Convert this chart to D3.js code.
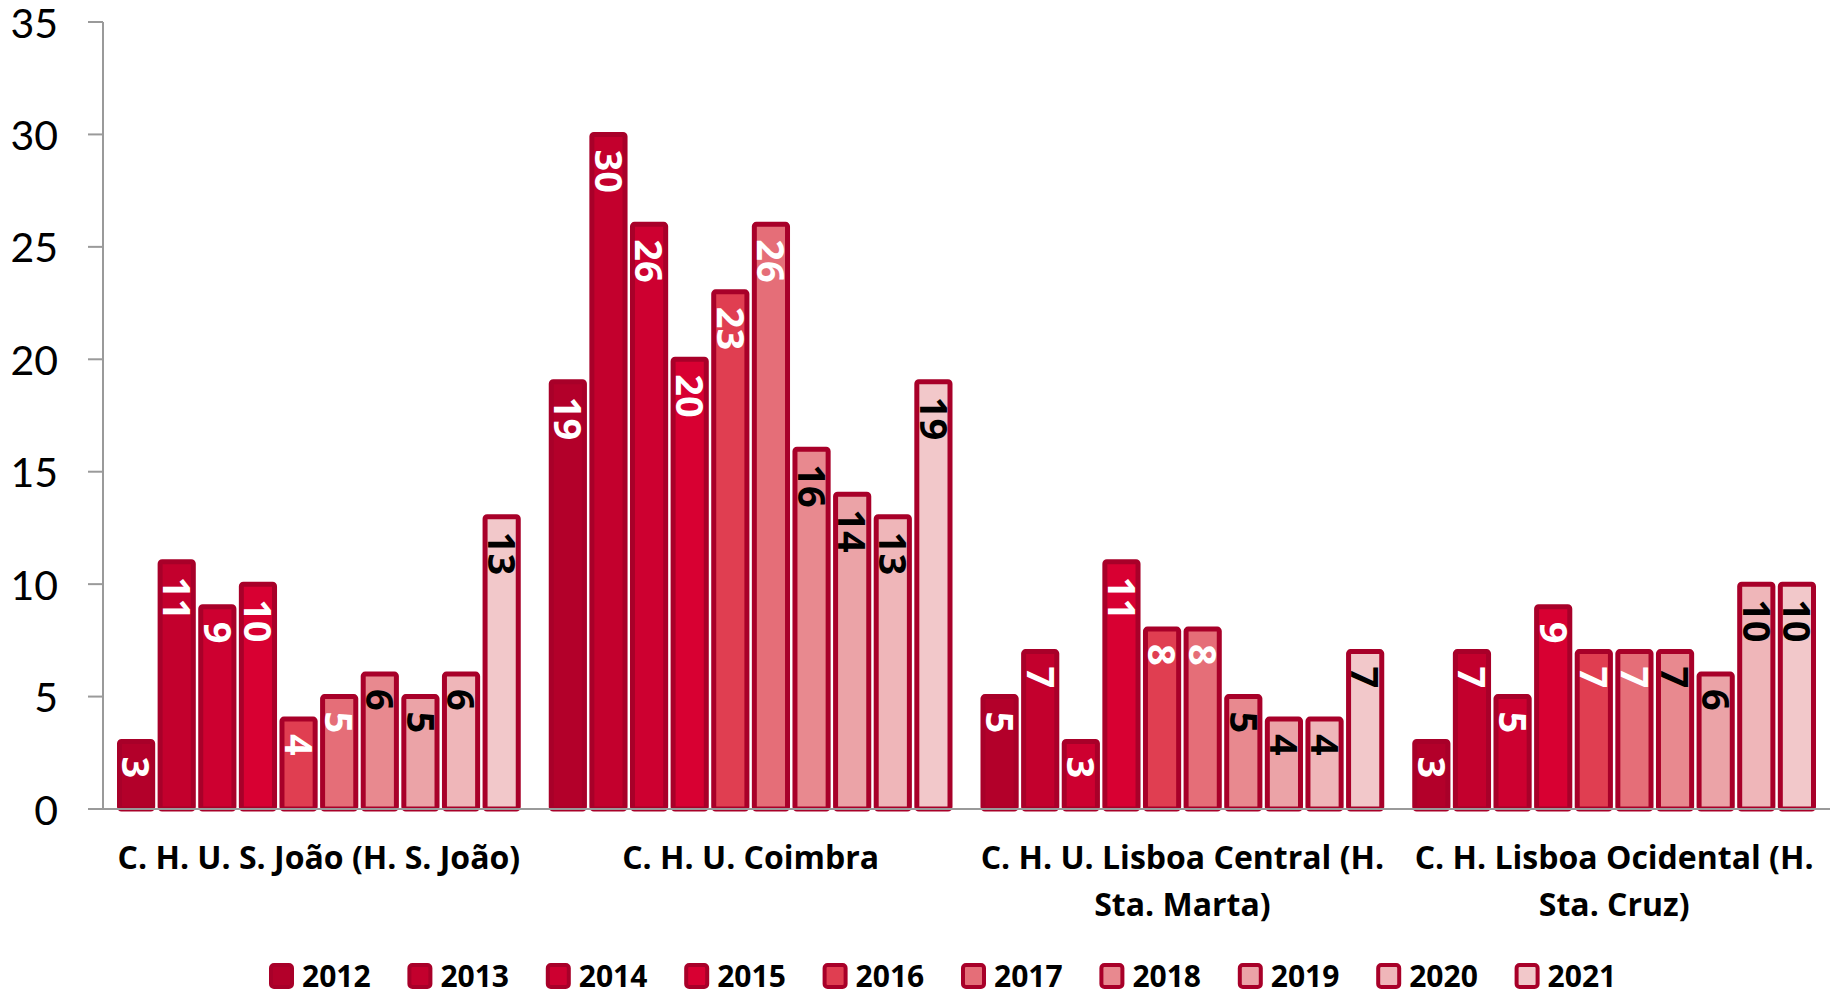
<!DOCTYPE html>
<html>
<head>
<meta charset="utf-8">
<script src="https://cdn.jsdelivr.net/npm/d3@7"></script>
<style>
  body { margin: 0; background: #fff; }
  text { font-family: Lato, "Open Sans", sans-serif; }
  .bold { font-family: "Open Sans", Lato, sans-serif; font-weight: bold; }
</style>
</head>
<body>
<div id="wrapper"></div>
<script>
// data
var hospitals = ["C. H. U. S. João (H. S. João)", "C. H. U. Coimbra",
                 "C. H. U. Lisboa Central (H. Sta. Marta)", "C. H. Lisboa Ocidental (H. Sta. Cruz)"];
var years = ["2012", "2013", "2014", "2015", "2016", "2017", "2018", "2019", "2020", "2021"];
var sJoao    = [3, 11, 9, 10, 4, 5, 6, 5, 6, 13];
var coimbra  = [19, 30, 26, 20, 23, 26, 16, 14, 13, 19];
var lisboaC  = [5, 7, 3, 11, 8, 8, 5, 4, 4, 7];
var lisboaO  = [3, 7, 5, 9, 7, 7, 7, 6, 10, 10];
var yTicks = [0, 5, 10, 15, 20, 25, 30, 35];
var fills = ["#b3002a", "#c3002d", "#cd0030", "#d80032", "#e03e51", "#e56e78",
             "#e8898f", "#eba3a7", "#efb6b9", "#f2c8ca"];
var strokeCol = "#a80029";

var series = [sJoao, coimbra, lisboaC, lisboaO];
var rows = hospitals.map(function(h, i) {
    return { name: h, values: years.map(function(y, j) { return { year: y, idx: j, v: series[i][j] }; }) };
});

var W = 1839, H = 994;
var svg = d3.select('#wrapper')
            .append('svg')
            .attr('width', W)
            .attr('height', H);

var x0 = d3.scaleBand().domain(hospitals).range([103, 1830]).padding(0);
var x1 = d3.scaleBand().domain(years).range([14, x0.bandwidth() - 14]).paddingInner(0.06);
var y = d3.scaleLinear().domain([0, 35]).range([809, 22]);

// y axis
var yAxis = svg.append("g");
yAxis.append("line")
     .attr("x1", 103).attr("x2", 103)
     .attr("y1", y(35)).attr("y2", y(0))
     .attr("stroke", "#9a9a9a").attr("stroke-width", 2);
yAxis.selectAll(".tick")
     .data(yTicks)
     .enter()
     .append("line")
     .attr("x1", 88).attr("x2", 103)
     .attr("y1", function(d) { return y(d); })
     .attr("y2", function(d) { return y(d); })
     .attr("stroke", "#9a9a9a").attr("stroke-width", 2);
yAxis.selectAll(".lbl")
     .data(yTicks)
     .enter()
     .append("text")
     .attr("x", 58)
     .attr("y", function(d) { return y(d); })
     .attr("dy", "0.38em")
     .attr("text-anchor", "end")
     .style("font-size", "41px")
     .text(function(d) { return d; });

// bars
var groups = svg.selectAll(".grp")
                .data(rows)
                .enter()
                .append("g")
                .attr("transform", function(d) { return "translate(" + x0(d.name) + ",0)"; });

groups.selectAll("rect")
      .data(function(d) { return d.values; })
      .enter()
      .append("rect")
      .attr("x", function(d) { return x1(d.year) + 2.5; })
      .attr("y", function(d) { return y(d.v); })
      .attr("width", x1.bandwidth() - 5)
      .attr("height", function(d) { return y(0) - y(d.v); })
      .attr("rx", 2)
      .style("fill", function(d) { return fills[d.idx]; })
      .style("stroke", strokeCol)
      .style("stroke-width", 5);

groups.selectAll(".val")
      .data(function(d) { return d.values; })
      .enter()
      .append("text")
      .attr("class", "bold")
      .attr("transform", function(d) {
          return "translate(" + (x1(d.year) + x1.bandwidth() / 2) + "," + (y(d.v) + 15) + ")rotate(90)";
      })
      .attr("dy", "0.36em")
      .attr("text-anchor", "start")
      .style("font-size", "38px")
      .style("fill", function(d) { return d.idx < 6 ? "#fff" : "#000"; })
      .text(function(d) { return d.v; });

// x axis line drawn over bar bottoms
svg.append("line")
   .attr("x1", 88).attr("x2", 1830)
   .attr("y1", y(0)).attr("y2", y(0))
   .attr("stroke", "#9a9a9a").attr("stroke-width", 2);

// category labels, wrapped to the band
var cat = svg.selectAll(".cat")
             .data(hospitals)
             .enter()
             .append("text")
             .attr("class", "bold")
             .attr("text-anchor", "middle")
             .style("font-size", "32px")
             .attr("x", function(d) { return x0(d) + x0.bandwidth() / 2; })
             .attr("y", 869);

cat.each(function(d) {
    var t = d3.select(this), words = d.split(" "), line = [];
    var cx = x0(d) + x0.bandwidth() / 2;
    var ts = t.append("tspan").attr("x", cx).attr("dy", 0);
    words.forEach(function(w) {
        line.push(w);
        ts.text(line.join(" "));
        if (ts.node().getComputedTextLength() > x0.bandwidth() - 8 && line.length > 1) {
            line.pop();
            ts.text(line.join(" "));
            line = [w];
            ts = t.append("tspan").attr("x", cx).attr("dy", 47).text(w);
        }
    });
});

// legend
var leg = svg.selectAll(".leg")
             .data(years)
             .enter()
             .append("g")
             .attr("transform", function(d, i) { return "translate(" + (269 + i * 138.4) + ",963)"; });
leg.append("rect")
   .attr("x", 2).attr("y", 2)
   .attr("width", 21).attr("height", 22)
   .attr("rx", 3)
   .style("fill", function(d, i) { return fills[i]; })
   .style("stroke", strokeCol)
   .style("stroke-width", 4);
leg.append("text")
   .attr("class", "bold")
   .attr("x", 33).attr("y", 24)
   .style("font-size", "30px")
   .text(function(d) { return d; });
</script>
</body>
</html>
